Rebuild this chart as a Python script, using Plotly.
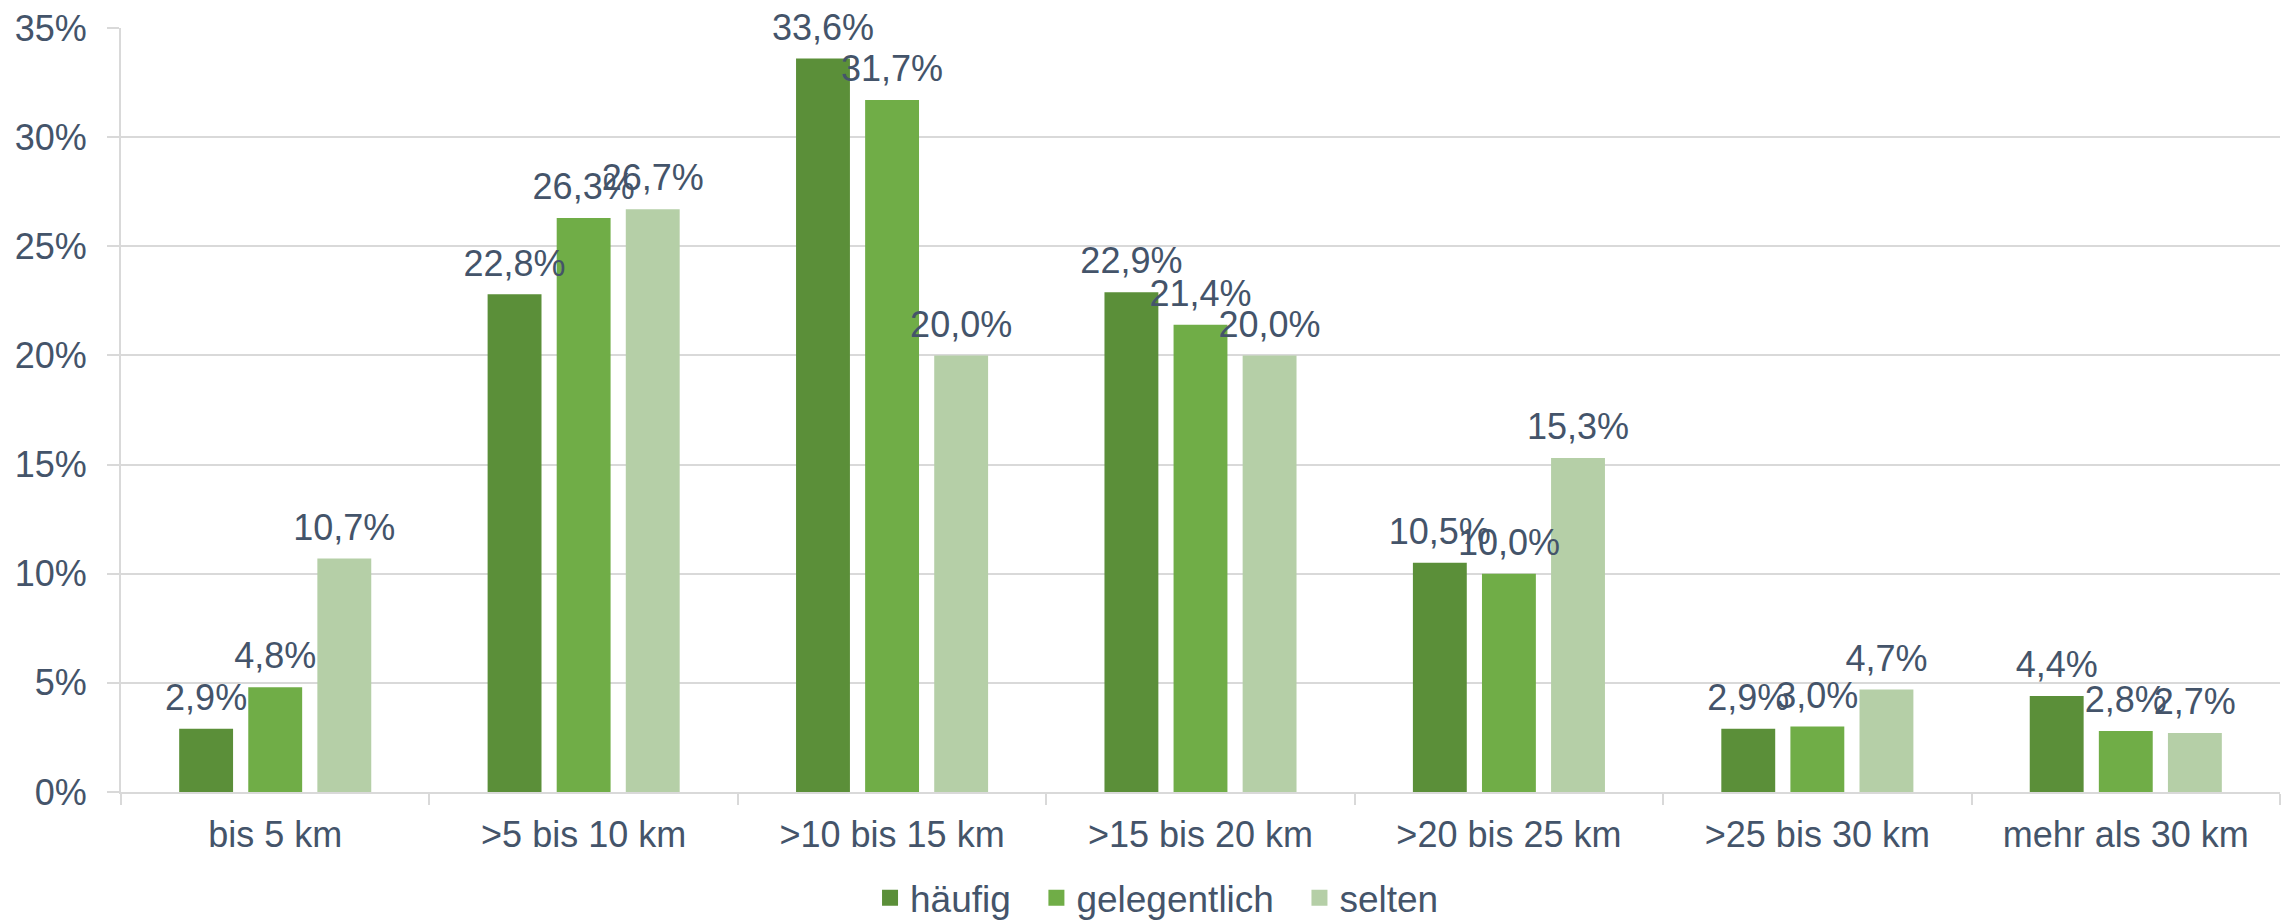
import plotly.graph_objects as go

categories = ["bis 5 km", ">5 bis 10 km", ">10 bis 15 km", ">15 bis 20 km",
              ">20 bis 25 km", ">25 bis 30 km", "mehr als 30 km"]
series_names = ["häufig", "gelegentlich", "selten"]
haeufig = [2.9, 22.8, 33.6, 22.9, 10.5, 2.9, 4.4]
gelegentlich = [4.8, 26.3, 31.7, 21.4, 10.0, 3.0, 2.8]
selten = [10.7, 26.7, 20.0, 20.0, 15.3, 4.7, 2.7]
y_ticks = [0, 5, 10, 15, 20, 25, 30, 35]
y_ticktext = [f"{v}%" for v in y_ticks]

colors = ["#5B8F39", "#70AD47", "#B5CFA7"]
text_color = "#44546A"
grid_color = "#D9D9D9"
font_family = "Liberation Sans, Arial, sans-serif"
fs = 36

fig = go.Figure()
for name, vals, col in zip(series_names, [haeufig, gelegentlich, selten], colors):
    fig.add_trace(go.Bar(
        x=categories, y=vals, name=name, showlegend=False,
        marker=dict(color=col, line=dict(width=0)),
        hoverinfo="skip",
    ))
# data labels, grouped like the bars
for name, vals in zip(series_names, [haeufig, gelegentlich, selten]):
    fig.add_trace(go.Scatter(
        x=categories, y=vals, mode="markers+text", showlegend=False,
        marker=dict(size=14, opacity=0),
        text=[f"{v:.1f}%".replace(".", ",") for v in vals],
        textposition="top center", cliponaxis=False,
        textfont=dict(family=font_family, size=fs, color=text_color),
        hoverinfo="skip",
    ))
# legend entries with square markers (on hidden overlay axes)
for name, col in zip(series_names, colors):
    fig.add_trace(go.Scatter(
        x=[None], y=[None], mode="markers", name=name + "\u00a0\u00a0",
        marker=dict(symbol="square", size=19, color=col),
        showlegend=True, hoverinfo="skip", xaxis="x2", yaxis="y2",
    ))

fig.update_layout(
    width=2295, height=921,
    margin=dict(l=121, r=15, t=28, b=129, autoexpand=False),
    paper_bgcolor="white", plot_bgcolor="white",
    barmode="group", bargap=0.328, bargroupgap=0.22,
    scattermode="group", scattergap=0.328,
    font=dict(family=font_family, size=fs, color=text_color),
    legend=dict(orientation="h", x=0.4845, xanchor="center", y=-0.139, yanchor="middle",
                font=dict(family=font_family, size=37, color=text_color),
                bgcolor="rgba(0,0,0,0)"),
    xaxis=dict(
        type="category", showline=True, linecolor=grid_color, linewidth=2,
        ticks="outside", tickson="boundaries", ticklen=11, tickcolor=grid_color, tickwidth=2,
        showgrid=False, ticklabelstandoff=10,
        tickfont=dict(family=font_family, size=fs, color=text_color),
    ),
    yaxis=dict(
        range=[0, 35], tickmode="array", tickvals=y_ticks, ticktext=y_ticktext,
        showline=True, linecolor=grid_color, linewidth=2,
        showgrid=True, gridcolor=grid_color, gridwidth=2, zeroline=False,
        ticks="outside", ticklen=12, tickcolor=grid_color, tickwidth=2,
        ticklabelstandoff=13,
        tickfont=dict(family=font_family, size=fs, color=text_color),
    ),
    xaxis2=dict(overlaying="x", visible=False),
    yaxis2=dict(overlaying="y", visible=False),
)

fig.write_html("out.html", config={"displayModeBar": False},
               post_script="document.body.style.margin='0px';document.body.style.overflow='hidden';")
